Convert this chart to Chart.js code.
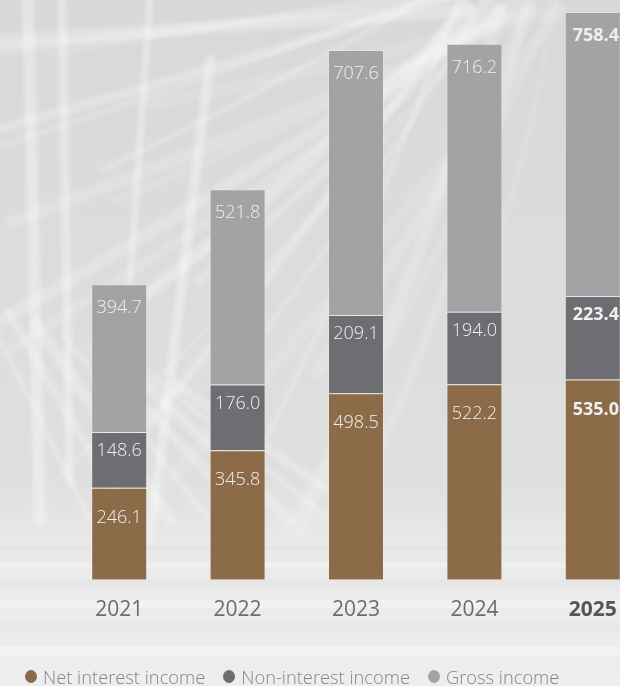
<!DOCTYPE html>
<html>
<head>
<meta charset="utf-8">
<script src="https://cdn.jsdelivr.net/npm/chart.js@4.4.1/dist/chart.umd.min.js"></script>
<style>
  html, body { margin: 0; padding: 0; }
  body { width: 620px; height: 686px; overflow: hidden; }
  #wrap { position: relative; width: 620px; height: 686px; overflow: hidden; background: #e2e2e2; }
  #income-chart { position: absolute; left: 0; top: 0; }
  #legend { position: absolute; left: 25px; top: 664px; height: 24px; display: flex; align-items: center;
            font-family: "Open Sans", sans-serif; font-size: 18.3px; font-weight: 300; color: #858585; white-space: nowrap; }
  #legend .item { display: flex; align-items: center; margin-right: 18px; }
  #legend .dot { width: 12px; height: 13px; border-radius: 50%; margin-right: 6px; }
</style>
</head>
<body>
<div id="wrap">
  <canvas id="income-chart" width="660" height="686"></canvas>
  <div id="legend"></div>
</div>
<script>
  const years = ["2021", "2022", "2023", "2024", "2025"];
  const netInterest = [246.1, 345.8, 498.5, 522.2, 535.0];
  const nonInterest = [148.6, 176.0, 209.1, 194.0, 223.4];
  const grossIncome = [394.7, 521.8, 707.6, 716.2, 758.4];

  // backdrop: grey photo-like panel with pale fronds and a lighter floor
  const backdrop = {
    id: "backdrop",
    beforeDraw: (chart) => {
      const ctx = chart.ctx;
      const w = chart.width, h = chart.height;
      ctx.save();
      const g = ctx.createLinearGradient(0, 0, 0, h);
      g.addColorStop(0, "#d8d8d8");
      g.addColorStop(0.7, "#dfdfdf");
      g.addColorStop(0.8, "#e8e8e8");
      g.addColorStop(1, "#ececec");
      ctx.fillStyle = g;
      ctx.fillRect(0, 0, w, h);

      ctx.filter = "blur(2px)";
      ctx.lineCap = "round";
      // fan of fronds from the top right
      for (let k = 0; k < 26; k++) {
        const a = (105 + k * 3.1) * Math.PI / 180;
        const len = 420 + (k % 5) * 70;
        const x0 = 560 - (k % 4) * 30, y0 = -30 + (k % 3) * 20;
        ctx.beginPath();
        ctx.moveTo(x0, y0);
        ctx.quadraticCurveTo(x0 + Math.cos(a) * len * 0.5 + 25, y0 + Math.sin(a) * len * 0.5,
                             x0 + Math.cos(a) * len, y0 + Math.sin(a) * len);
        ctx.strokeStyle = "rgba(255,255,255," + (0.12 + (k % 4) * 0.05) + ")";
        ctx.lineWidth = 5 + (k % 3) * 4;
        ctx.stroke();
      }
      // long upright stems on the left
      [[28, 0, 40, 520, 12], [62, 0, 70, 480, 9], [150, 0, 110, 560, 7], [210, 60, 150, 540, 10]].forEach((s) => {
        ctx.beginPath();
        ctx.moveTo(s[0], s[1]);
        ctx.lineTo(s[2], s[3]);
        ctx.strokeStyle = "rgba(255,255,255,0.35)";
        ctx.lineWidth = s[4];
        ctx.stroke();
      });
      // diagonal blades low on the left
      for (let k = 0; k < 8; k++) {
        ctx.beginPath();
        ctx.moveTo(-20 + k * 28, 300 + k * 12);
        ctx.lineTo(90 + k * 40, 520);
        ctx.strokeStyle = "rgba(255,255,255,0.25)";
        ctx.lineWidth = 6 + (k % 3) * 3;
        ctx.stroke();
      }
      ctx.filter = "none";
      // floor steps
      const f = ctx.createLinearGradient(0, 510, 0, h);
      f.addColorStop(0, "rgba(234,234,234,0)");
      f.addColorStop(0.3, "rgba(234,234,234,0.9)");
      f.addColorStop(1, "rgba(238,238,238,1)");
      ctx.fillStyle = f;
      ctx.fillRect(0, 510, w, h - 510);
      [545, 562, 580, 600, 622, 646].forEach((y, i) => {
        ctx.fillStyle = i % 2 ? "rgba(255,255,255,0.3)" : "rgba(222,222,222,0.3)";
        ctx.fillRect(0, y, w, 5 + i);
      });
      ctx.restore();
    },
  };

  // value written just inside the top of every segment
  const valueLabels = {
    id: "valueLabels",
    afterDatasetsDraw: (chart) => {
      const ctx = chart.ctx;
      chart.data.datasets.forEach((ds, i) => {
        chart.getDatasetMeta(i).data.forEach((bar, j) => {
          const last = j === years.length - 1;
          ctx.save();
          ctx.font = (last ? "bold " : "300 ") + "18px 'Open Sans'";
          ctx.fillStyle = "#f0f0f0";
          ctx.textAlign = "center";
          ctx.textBaseline = "middle";
          ctx.fillText(ds.data[j].toFixed(1), bar.x + (last ? 3 : 0), bar.y + ds.labelOffset);
          ctx.restore();
        });
      });
    },
  };

  const barData = {
    labels: years,
    datasets: [
      { label: "Net interest income", data: netInterest, backgroundColor: "#8b6b48", labelOffset: 30 },
      { label: "Non-interest income", data: nonInterest, backgroundColor: "#6e6d72", labelOffset: 19 },
      { label: "Gross income", data: grossIncome, backgroundColor: "#a4a2a5", labelOffset: 24 },
    ],
  };
  barData.datasets.forEach((ds) => {
    ds.borderWidth = 1;
    ds.borderColor = "rgba(255,255,255,0.22)";
    ds.categoryPercentage = 1;
    ds.barPercentage = 0.473;
  });

  const chart = new Chart(document.getElementById("income-chart"), {
    type: "bar",
    data: barData,
    options: {
      responsive: false,
      animation: false,
      layout: { padding: { left: 60, right: 8, top: 0, bottom: 53 } },
      scales: {
        x: {
          stacked: true,
          grid: { display: false },
          border: { display: false },
          ticks: {
            padding: 10,
            font: (c) => ({ family: "Open Sans", size: 21, weight: c.index === 4 ? "bold" : "normal" }),
            color: (c) => (c.index === 4 ? "#565656" : "#6c6c6c"),
          },
        },
        y: { stacked: true, display: false, min: 0, max: 1549 },
      },
      plugins: {
        legend: { display: false },
        tooltip: { enabled: false },
      },
    },
    plugins: [backdrop, valueLabels],
  });

  // html legend built from the datasets
  const legend = document.getElementById("legend");
  chart.data.datasets.forEach((ds) => {
    const item = document.createElement("div");
    item.className = "item";
    const dot = document.createElement("span");
    dot.className = "dot";
    dot.style.background = ds.backgroundColor;
    item.appendChild(dot);
    item.appendChild(document.createTextNode(ds.label));
    legend.appendChild(item);
  });
</script>
</body>
</html>
